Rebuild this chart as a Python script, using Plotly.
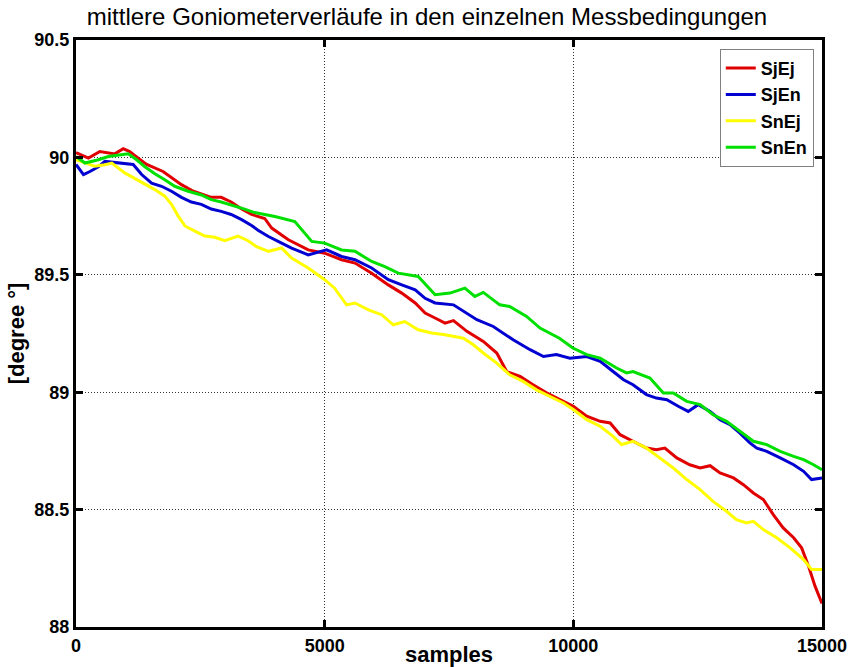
import plotly.graph_objects as go

# SjEj (red)
sjej_x = [0, 250, 480, 780, 950, 1080, 1250, 1420, 1750, 1990, 2120, 2360, 2720, 2920, 3120, 3330, 3530, 3795,
          3935, 4270, 4670, 5000, 5340, 5610, 5945, 6280, 6550, 6820, 7020, 7220, 7420, 7590, 7860, 8190, 8460,
          8660, 8930, 9190, 9460, 9800, 10000, 10270, 10540, 10740, 10940, 11200, 11470, 11670, 11840, 12080,
          12340, 12550, 12750, 12950, 13220, 13420, 13620, 13820, 14020, 14220, 14430, 14590, 14730, 14860, 15000]
sjej_y = [90.02, 89.997, 90.025, 90.015, 90.037, 90.025, 89.997, 89.97, 89.94, 89.905, 89.884, 89.856, 89.83,
          89.83, 89.81, 89.78, 89.757, 89.74, 89.699, 89.649, 89.606, 89.592, 89.564, 89.55, 89.507, 89.457,
          89.422, 89.38, 89.337, 89.316, 89.294, 89.305, 89.259, 89.216, 89.167, 89.088, 89.067, 89.032, 88.997,
          88.961, 88.94, 88.898, 88.876, 88.869, 88.819, 88.791, 88.762, 88.755, 88.762, 88.72, 88.691, 88.677,
          88.687, 88.656, 88.635, 88.606, 88.571, 88.543, 88.479, 88.422, 88.38, 88.337, 88.259, 88.174, 88.10]

# SjEn (blue)
sjen_x = [0, 150, 280, 450, 580, 850, 1150, 1320, 1520, 1720, 1920, 2120, 2320, 2520, 2720, 2920, 3120, 3330,
          3530, 3660, 3870, 4135, 4335, 4670, 5040, 5340, 5610, 5945, 6280, 6550, 6820, 7020, 7220, 7590, 7790,
          8060, 8390, 8590, 8790, 9130, 9400, 9660, 9930, 10270, 10540, 10800, 11010, 11200, 11470, 11670,
          11880, 12110, 12310, 12510, 12750, 12950, 13150, 13350, 13550, 13690, 13890, 14160, 14430, 14630,
          14790, 15000]
sjen_y = [89.97, 89.927, 89.94, 89.96, 89.983, 89.976, 89.97, 89.927, 89.89, 89.877, 89.856, 89.83, 89.81,
          89.8, 89.78, 89.77, 89.757, 89.735, 89.71, 89.69, 89.663, 89.635, 89.614, 89.585, 89.606, 89.578,
          89.564, 89.529, 89.479, 89.457, 89.436, 89.4, 89.38, 89.372, 89.344, 89.309, 89.28, 89.252, 89.223,
          89.181, 89.152, 89.16, 89.145, 89.152, 89.131, 89.088, 89.053, 89.032, 88.99, 88.975, 88.968, 88.94,
          88.918, 88.947, 88.918, 88.883, 88.862, 88.826, 88.784, 88.762, 88.748, 88.72, 88.691, 88.663,
          88.628, 88.635]

# SnEj (yellow)
snej_x = [0, 180, 380, 580, 720, 980, 1185, 1385, 1585, 1785, 1920, 2055, 2190, 2390, 2590, 2790, 2990, 3260,
          3460, 3630, 3870, 4135, 4335, 4670, 5000, 5200, 5440, 5610, 5880, 6145, 6380, 6610, 6880, 7150, 7420,
          7790, 7990, 8190, 8460, 8720, 8990, 9260, 9530, 9800, 10000, 10270, 10540, 10800, 10970, 11200,
          11470, 11740, 12010, 12280, 12550, 12810, 13080, 13280, 13480, 13620, 13820, 14090, 14360, 14630,
          14790, 15000]
snej_y = [89.99, 89.976, 89.962, 89.969, 89.976, 89.934, 89.91, 89.884, 89.863, 89.835, 89.8, 89.75, 89.708,
          89.686, 89.665, 89.66, 89.645, 89.665, 89.645, 89.62, 89.6, 89.614, 89.571, 89.529, 89.479, 89.443,
          89.372, 89.38, 89.351, 89.33, 89.287, 89.301, 89.266, 89.252, 89.245, 89.23, 89.202, 89.167, 89.124,
          89.074, 89.046, 89.01, 88.982, 88.954, 88.926, 88.883, 88.855, 88.812, 88.777, 88.791, 88.762, 88.72,
          88.677, 88.628, 88.585, 88.535, 88.493, 88.457, 88.443, 88.45, 88.415, 88.38, 88.337, 88.287,
          88.245, 88.245]

# SnEn (green)
snen_x = [0, 180, 450, 650, 1050, 1220, 1385, 1585, 1785, 1985, 2255, 2520, 2720, 2920, 3390, 3590, 4000,
          4400, 4740, 5000, 5340, 5610, 5945, 6210, 6480, 6880, 7220, 7520, 7820, 8020, 8190, 8520, 8720, 9060,
          9330, 9720, 9990, 10270, 10540, 10870, 11070, 11200, 11540, 11810, 12010, 12280, 12550, 12810, 13080,
          13350, 13620, 13890, 14160, 14430, 14630, 14830, 15000]
snen_y = [90.004, 89.976, 89.99, 90.004, 90.015, 89.99, 89.96, 89.93, 89.905, 89.877, 89.856, 89.84, 89.82,
          89.81, 89.78, 89.765, 89.748, 89.727, 89.642, 89.635, 89.606, 89.6, 89.557, 89.535, 89.507, 89.493,
          89.415, 89.422, 89.443, 89.408, 89.425, 89.372, 89.365, 89.323, 89.273, 89.23, 89.188, 89.16, 89.145,
          89.103, 89.082, 89.088, 89.06, 88.997, 88.997, 88.961, 88.947, 88.904, 88.876, 88.834, 88.791,
          88.777, 88.748, 88.727, 88.713, 88.691, 88.67]

names = ["SjEj", "SjEn", "SnEj", "SnEn"]
colors = ["#e00000", "#0000d0", "#ffff00", "#00e000"]
xs = [sjej_x, sjen_x, snej_x, snen_x]
ys = [sjej_y, sjen_y, snej_y, snen_y]

x_ticks = [0, 5000, 10000, 15000]
y_ticks = [88, 88.5, 89, 89.5, 90, 90.5]
y_tick_text = ["88", "88.5", "89", "89.5", "90", "90.5"]

FONT = "Liberation Sans, Arial, sans-serif"

fig = go.Figure()
for n, c, x, y in zip(names, colors, xs, ys):
    fig.add_trace(go.Scatter(x=x, y=y, mode="lines", name=n,
                             line=dict(color=c, width=3)))

axis_common = dict(
    showline=True, linecolor="black", linewidth=3, mirror="ticks",
    ticks="inside", ticklen=7, tickwidth=3, tickcolor="black",
    showgrid=True, gridcolor="#333333", gridwidth=1, griddash="1px,2px",
    zeroline=False, automargin=False,
    tickfont=dict(family=FONT, size=18, color="black", weight="bold"),
)

fig.update_layout(
    width=854, height=667,
    margin=dict(l=76, r=32, t=40, b=40),
    paper_bgcolor="white", plot_bgcolor="white",
    title=dict(text="mittlere Goniometerverläufe in den einzelnen Messbedingungen",
               x=0.5, xref="container", xanchor="center",
               y=1 - 17 / 667, yref="container", yanchor="middle",
               font=dict(family=FONT, size=24, color="black")),
    xaxis=dict(range=[0, 15000], tickvals=x_ticks, ticktext=[str(v) for v in x_ticks],
               title=dict(text="samples", standoff=0,
                          font=dict(family=FONT, size=22, color="black", weight="bold")),
               ticklabelstandoff=0,
               **axis_common),
    yaxis=dict(range=[88, 90.5], tickvals=y_ticks, ticktext=y_tick_text,
               title=dict(text="[degree °]", standoff=4,
                          font=dict(family=FONT, size=22, color="black", weight="bold")),
               **axis_common),
    legend=dict(x=0.989, y=0.985, xanchor="right", yanchor="top",
                bgcolor="white", bordercolor="#808080", borderwidth=1,
                font=dict(family=FONT, size=18, color="black", weight="bold"),
                tracegroupgap=0, itemwidth=30),
    showlegend=True,
)

fig.write_html("out.html")
